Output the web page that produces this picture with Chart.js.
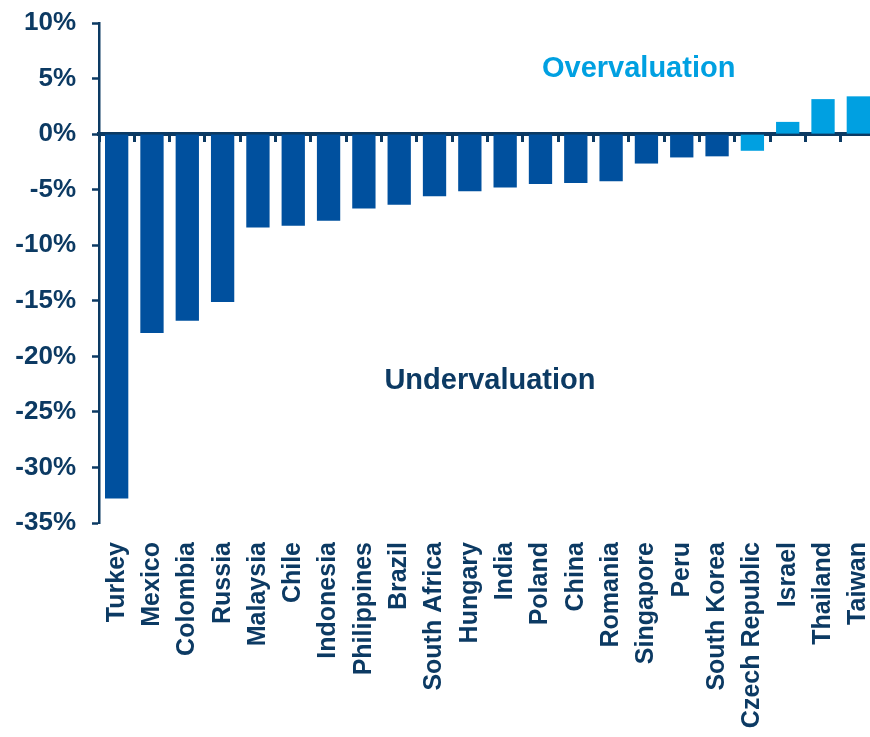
<!DOCTYPE html>
<html>
<head>
<meta charset="utf-8">
<script src="https://cdn.jsdelivr.net/npm/chart.js@4/dist/chart.umd.min.js"></script>
<style>
  html, body { margin: 0; padding: 0; background: #ffffff; overflow: hidden; width: 870px; height: 737px; }
  canvas { display: block; position: absolute; left: 0; top: 0; }
</style>
</head>
<body>
<canvas id="c" width="880" height="737"></canvas>
<script>
// ---- data ----
const countries = ['Turkey','Mexico','Colombia','Russia','Malaysia','Chile','Indonesia','Philippines','Brazil','South Africa','Hungary','India','Poland','China','Romania','Singapore','Peru','South Korea','Czech Republic','Israel','Thailand','Taiwan'];
const valuation = [-32.8,-17.9,-16.8,-15.1,-8.4,-8.25,-7.8,-6.7,-6.35,-5.6,-5.15,-4.8,-4.5,-4.4,-4.25,-2.65,-2.1,-2.0,-1.5,1.1,3.15,3.4];
const highlighted = ['Czech Republic','Israel','Thailand','Taiwan'];
const yTicks = [10,5,0,-5,-10,-15,-20,-25,-30,-35];
const noteTexts = ['Overvaluation','Undervaluation'];

// ---- styles ----
const NAVY = '#0c3a63';
const DARK = '#00509e';
const LIGHT = '#00a0e1';
const FONT = "'Liberation Sans', Arial, sans-serif";

const notesPlugin = {
  id: 'notes',
  afterDatasetsDraw(chart) {
    const {ctx, scales} = chart;
    const items = [
      {text: noteTexts[0], xi: 14.78, yv: 5.9, color: LIGHT},
      {text: noteTexts[1], xi: 10.57, yv: -22.2, color: NAVY}
    ];
    ctx.save();
    ctx.font = "bold 29px " + FONT;
    ctx.textAlign = 'center';
    ctx.textBaseline = 'middle';
    items.forEach(it => {
      ctx.fillStyle = it.color;
      ctx.fillText(it.text, scales.x.getPixelForValue(it.xi), scales.y.getPixelForValue(it.yv));
    });
    ctx.restore();
  }
};

new Chart(document.getElementById('c'), {
  type: 'bar',
  data: {
    labels: countries,
    datasets: [{
      data: valuation,
      xAxisID: 'x',
      yAxisID: 'y',
      backgroundColor: (c) => highlighted.includes(countries[c.dataIndex]) ? LIGHT : DARK,
      borderWidth: 0,
      barPercentage: 0.66,
      categoryPercentage: 1.0
    }]
  },
  options: {
    responsive: false,
    devicePixelRatio: 1,
    animation: false,
    layout: { padding: { top: 23, right: 4, left: 0, bottom: 0 } },
    plugins: { legend: { display: false }, tooltip: { enabled: false }, title: { display: false } },
    scales: {
      x: {
        type: 'category',
        position: 'bottom',
        offset: true,
        grid: { display: false, offset: true },
        border: { display: false },
        ticks: {
          autoSkip: false,
          minRotation: 90,
          maxRotation: 90,
          padding: 11,
          color: NAVY,
          font: { family: FONT, size: 25, weight: 'bold' }
        },
        afterFit(scale) { scale.height = 214; scale.paddingLeft = 0; scale.paddingRight = 0; }
      },
      x2: {
        type: 'category',
        position: { y: 0 },
        z: 1,
        offset: true,
        grid: {
          display: true,
          offset: true,
          drawOnChartArea: false,
          drawTicks: true,
          tickLength: 6,
          tickColor: NAVY,
          tickWidth: 3
        },
        border: { display: true, color: NAVY, width: 4 },
        ticks: { display: false },
        afterFit(scale) { scale.paddingLeft = 0; scale.paddingRight = 0; }
      },
      y: {
        min: -35,
        max: 10,
        afterBuildTicks(scale) { scale.ticks = yTicks.map(v => ({ value: v })); },
        ticks: {
          padding: 16,
          color: NAVY,
          font: { family: FONT, size: 26, weight: 'bold' },
          callback: (v) => v + '%'
        },
        grid: {
          display: true,
          drawOnChartArea: false,
          drawTicks: true,
          tickLength: 7,
          tickColor: NAVY,
          tickWidth: 2.5
        },
        border: { display: true, color: NAVY, width: 2.5 },
        afterFit(scale) { scale.width = 99; scale.paddingTop = 0; scale.paddingBottom = 0; }
      }
    }
  },
  plugins: [notesPlugin]
});
</script>
</body>
</html>
